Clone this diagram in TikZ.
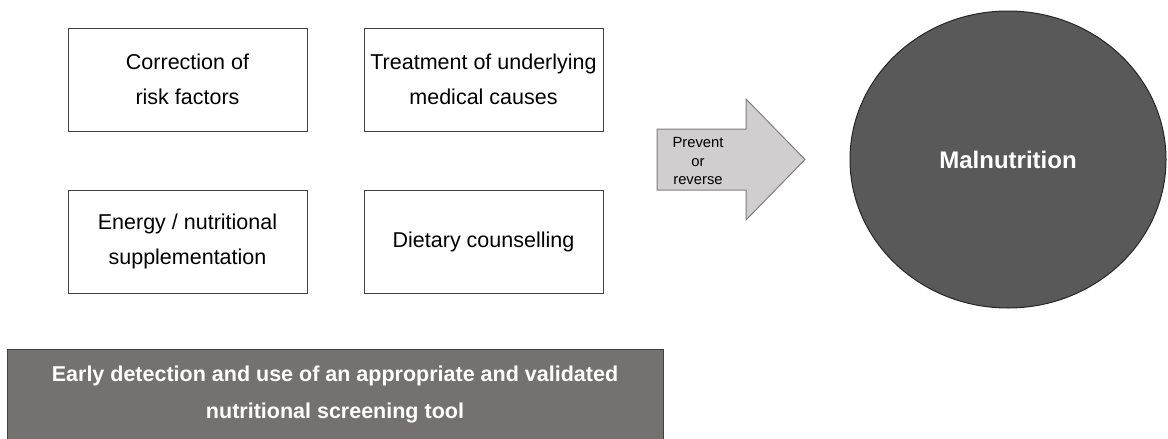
\documentclass[tikz,border=0pt]{standalone}
\usepackage{fontspec}
\setmainfont{Liberation Sans}
\usepackage{xcolor}
\usepackage{tikz}
\usetikzlibrary{positioning, shapes.geometric}

\definecolor{boxline}{HTML}{404040}
\definecolor{arrowfill}{HTML}{D0CECE}
\definecolor{arrowline}{HTML}{7F7F7F}
\definecolor{circfill}{HTML}{595959}
\definecolor{basefill}{HTML}{767171}

\begin{document}
\begin{tikzpicture}[
    x=1pt, y=-1pt,
    node distance=58pt and 56pt,
    action/.style={rectangle, draw=boxline, fill=white, line width=1pt, minimum width=239pt, minimum height=103pt, inner sep=0pt, align=center, font=\fontsize{21.5}{35}\selectfont},
    outcome/.style={ellipse, draw=black!85, fill=circfill, line width=1pt, minimum width=316pt, minimum height=297pt, text=white, font=\fontsize{24}{28}\selectfont\bfseries},
    basis/.style={rectangle, draw=boxline, fill=basefill, line width=1pt, minimum width=656pt, minimum height=91pt, inner sep=0pt, align=center, text=white, font=\fontsize{21.5}{37}\selectfont\bfseries},
    bigarrow/.style={draw=arrowline, fill=arrowfill, line width=1pt},
    arrowtext/.style={align=center, inner sep=0pt, font=\fontsize{14.8}{18.5}\selectfont}
]
\useasboundingbox (0,0) rectangle (1168,439);

\node[action] at (187.5,79.5) (riskfac) {Correction of\\risk factors};
\node[action, right=of riskfac] (medcause) {Treatment of underlying\\medical causes};
\node[action, below=of riskfac] (supplement) {Energy / nutritional\\supplementation};
\node[action, right=of supplement] (diet) {Dietary counselling};

\node[basis] at (335,394.5) (screening) {Early detection and use of an appropriate and validated\\nutritional screening tool};

% block arrow towards the outcome
\draw[bigarrow] (657,129) -- (746,129) -- (746,99) -- (805,159.5) -- (746,220) -- (746,190) -- (657,190) -- cycle;
\node[arrowtext] at (698,161) (prevent) {Prevent\\or\\reverse};

\node[outcome] at (1008,159.5) (malnut) {Malnutrition};
\end{tikzpicture}
\end{document}
